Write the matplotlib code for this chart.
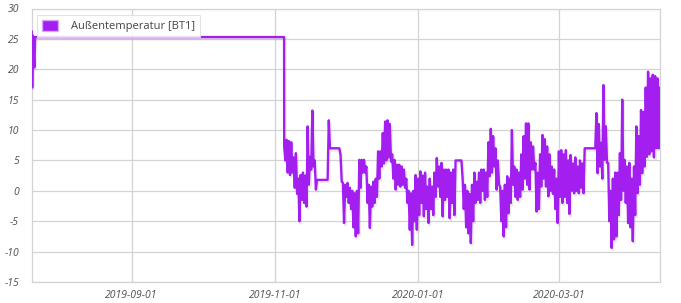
import matplotlib
matplotlib.use("Agg")
import matplotlib.pyplot as plt
import matplotlib.dates as mdates
import matplotlib.patheffects as pe
from matplotlib.patches import Patch
import numpy as np
import pandas as pd

# ---------------- data ----------------
series_label = "Außentemperatur [BT1]"

early_times = ["2019-07-20 11:00", "2019-07-20 16:00", "2019-07-21 00:00",
               "2019-07-21 14:00", "2019-07-21 22:00", "2019-11-04 23:00"]
early_temps = [26.2, 17.0, 25.5, 20.3, 25.3, 25.3]

halfday_start = "2019-11-05 00:00"
halfday_temps = [
    7.3, 5.0,   8.4, 3.0,   8.2, 2.6,   8.0, 3.0,   5.5, 0.5,
    6.2, -0.5,  2.0, -5.0,  2.6, -1.5,  3.0, -2.0,  2.5, -2.6,
    10.6, 1.0,  5.6, 3.5,   13.2, 4.0,  5.0, 0.2,   1.8, 1.8,
    1.8, 1.8,   1.8, 1.8,   1.8, 1.8,   1.8, 1.8,   11.6, 7.0,
    7.0, 7.0,   7.0, 7.0,   7.0, 7.0,   7.0, 7.0,   5.9, 1.5,
    1.3, -5.3,  1.0, -1.0,  1.3, -2.0,  0.5, -3.0,  0.0, -6.0,
    -0.4, -7.5, 0.0, -7.0,  5.1, 0.5,   5.1, 3.0,   5.1, 3.0,
    4.0, -2.0,  1.0, -6.1,  0.7, -2.6,  1.5, -2.0,  2.0, -1.0,
    6.5, 2.0,   6.5, 4.0,   9.5, 4.5,   11.4, 5.0,  11.6, 5.5,
    11.0, 4.8,  6.0, 2.0,   5.1, 0.2,   4.3, 1.0,   4.3, 0.7,
    4.0, 1.0,   3.5, 0.5,   2.0, -2.0,  0.0, -6.4,  -0.4, -8.9,
    0.0, -5.0,  2.6, -6.4,  2.0, -4.0,  3.2, -2.0,  2.5, -4.2,
    3.0, -3.0,  0.7, -5.3,  2.0, -3.0,  0.7, -4.0,  3.0, -1.0,
    5.4, 0.7,   4.0, -1.0,  4.6, -4.2,  3.5, -1.5,  3.5, -1.0,
    3.5, -4.5,  3.0, -2.0,  3.5, -4.0,  5.0, 5.0,   5.0, 5.0,
    5.0, 5.0,   2.1, -3.0,  1.0, -6.0,  0.0, -7.0,  -0.5, -8.6,
    1.0, -5.0,  3.0, -2.0,  1.5, -1.5,  3.0, -2.0,  3.5, 0.0,
    3.5, -1.5,  3.0, -1.0,  8.0, 2.4,   10.2, 3.0,  9.0, 4.0,
    7.0, 0.2,   5.0, 1.0,   0.7, -5.0,  0.0, -7.5,  1.0, -6.0,
    2.4, -3.7,  2.0, -2.0,  10.0, 1.0,  4.0, -1.0,  3.5, -1.5,
    3.0, -1.0,  6.0, 0.2,   9.0, 2.0,   11.1, 1.0,  11.1, 0.2,
    8.0, 3.5,   7.3, 3.5,   4.6, -3.4,  3.0, -3.0,  6.0, 0.7,
    9.2, 2.0,   8.5, 0.7,   7.3, -0.9,  6.0, 0.0,   4.0, -0.5,
    3.5, -3.0,  2.0, -5.3,  6.5, -1.0,  6.7, -2.0,  6.0, -1.0,
    6.7, -2.0,  5.0, -3.8,  5.9, 0.0,   4.5, -0.4,  5.5, 0.0,
    4.0, -0.4,  5.0, 0.5,   4.5, -0.4,  7.0, 7.0,   7.0, 7.0,
    7.0, 7.0,   7.0, 7.0,   7.0, 7.0,   12.8, 2.9,  11.0, 4.0,
    7.9, 2.0,   17.4, 5.1,  10.6, 4.6,  4.6, -5.0,  0.0, -9.4,
    2.0, -8.0,  3.0, -7.5,  3.0, -4.0,  6.2, -1.5,  15.0, 0.0,
    5.1, -2.0,  4.0, -5.3,  4.6, -6.0,  2.0, -8.3,  4.0, -4.0,
    10.6, -0.4, 9.0, 1.0,   13.3, 2.9,  13.0, 4.0,  17.0, 5.6,
    19.6, 6.0,  18.5, 6.5,  19.1, 5.5,  18.9, 7.0,  18.5, 7.0,
    17.0, 12.5,
]

x_start = "2019-07-20 11:00"
x_end = "2020-04-13 07:00"
y_ticks = [-15, -10, -5, 0, 5, 10, 15, 20, 25, 30]
x_ticks = ["2019-09-01", "2019-11-01", "2020-01-01", "2020-03-01"]

# ---------------- build ----------------
halfday_times = pd.date_range(halfday_start, periods=len(halfday_temps), freq="12h")
times = list(pd.to_datetime(early_times)) + list(halfday_times)
temps = early_temps + halfday_temps

line_color = "#a21ff0"
grid_color = "#d3d3d3"
text_color = "#505050"

plt.rcParams["axes.unicode_minus"] = False
plt.rcParams["font.family"] = ["Open Sans", "DejaVu Sans"]

fig = plt.figure(figsize=(6.81, 3.03), dpi=100)
ax = fig.add_axes([31.7 / 681, 1 - 282 / 303, (660.5 - 31.7) / 681, (282 - 8.5) / 303])

ax.plot(times, temps, color=line_color, lw=1.7,
        path_effects=[pe.SimpleLineShadow(offset=(1, -1.5), shadow_color="#888888", alpha=0.18),
                      pe.Normal()], zorder=3)

ax.set_xlim(pd.Timestamp(x_start), pd.Timestamp(x_end))
ax.set_ylim(-15, 30)
ax.set_yticks(y_ticks)
ax.set_yticklabels([str(v) for v in y_ticks])
ax.set_xticks(pd.to_datetime(x_ticks))
ax.xaxis.set_major_formatter(mdates.DateFormatter("%Y-%m-%d"))

ax.grid(True, color=grid_color, lw=0.9)
ax.set_axisbelow(True)
for s in ax.spines.values():
    s.set_color(grid_color)
    s.set_linewidth(0.9)
ax.tick_params(length=0, labelsize=7.5, labelcolor=text_color)
ax.tick_params(axis="y", pad=9)
ax.tick_params(axis="x", pad=6)
for lbl in ax.get_xticklabels() + ax.get_yticklabels():
    lbl.set_fontstyle("italic")

handle = Patch(facecolor=line_color, edgecolor="#d7a8f7", linewidth=1.0)
leg = ax.legend([handle], [series_label], loc="upper left",
                bbox_to_anchor=(5 / 629, 1 - 6.5 / 273.5), borderaxespad=0,
                fancybox=False, framealpha=0.85, edgecolor="#dddddd",
                fontsize=8.0, handlelength=1.5, handleheight=1.2,
                handletextpad=1.1, borderpad=0.45)
for t in leg.get_texts():
    t.set_color("#444444")
leg.get_frame().set_linewidth(0.8)

fig.savefig("out.png", dpi=100)
